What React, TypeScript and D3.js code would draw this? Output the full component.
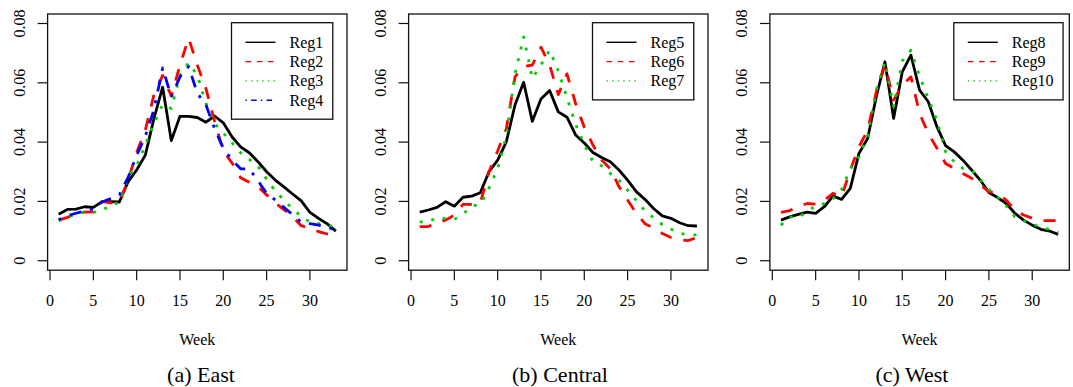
import React from "react";
import * as d3 from "d3";

// weekly share per region
const weeks = [1, 2, 3, 4, 5, 6, 7, 8, 9, 10, 11, 12, 13, 14, 15, 16, 17, 18, 19, 20, 21, 22, 23, 24, 25, 26, 27, 28, 29, 30, 31, 32, 33];

const reg1 = [0.0157, 0.0173, 0.0174, 0.0182, 0.018, 0.0199, 0.0199, 0.0198, 0.0266, 0.0306, 0.0356, 0.048, 0.0585, 0.0405, 0.0487, 0.0487, 0.0483, 0.0467, 0.0488, 0.0465, 0.0418, 0.0384, 0.0364, 0.0334, 0.03, 0.0272, 0.0249, 0.0225, 0.0202, 0.0163, 0.0143, 0.0124, 0.01];
const reg2 = [0.0137, 0.0146, 0.0158, 0.0164, 0.0165, 0.02, 0.0195, 0.0197, 0.027, 0.0365, 0.044, 0.056, 0.0625, 0.0555, 0.066, 0.075, 0.066, 0.058, 0.047, 0.037, 0.033, 0.028, 0.0265, 0.025, 0.0222, 0.0195, 0.0172, 0.0148, 0.0118, 0.011, 0.0098, 0.009, 0.0088];
const reg3 = [0.0135, 0.0146, 0.0158, 0.0165, 0.0163, 0.0168, 0.019, 0.0195, 0.0283, 0.032, 0.039, 0.0463, 0.0527, 0.0513, 0.0626, 0.0667, 0.0626, 0.053, 0.0463, 0.0431, 0.0398, 0.0364, 0.0342, 0.0319, 0.0275, 0.0235, 0.0205, 0.0175, 0.015, 0.013, 0.0125, 0.012, 0.0112];
const reg4 = [0.0138, 0.0152, 0.016, 0.0168, 0.0175, 0.0198, 0.021, 0.0222, 0.028, 0.0355, 0.042, 0.051, 0.065, 0.0553, 0.062, 0.0655, 0.0565, 0.0525, 0.0445, 0.038, 0.034, 0.031, 0.031, 0.027, 0.0227, 0.0205, 0.018, 0.0155, 0.013, 0.0125, 0.012, 0.0113, 0.0103];

const reg5 = [0.0164, 0.0171, 0.018, 0.0199, 0.0184, 0.0214, 0.0218, 0.0229, 0.030, 0.0339, 0.0401, 0.0525, 0.0602, 0.047, 0.0545, 0.0574, 0.0502, 0.0484, 0.0424, 0.0397, 0.0365, 0.0348, 0.0334, 0.0306, 0.0272, 0.0233, 0.0207, 0.0176, 0.0151, 0.0143, 0.0128, 0.0118, 0.0117];
const reg6 = [0.0115, 0.0115, 0.0131, 0.0137, 0.0154, 0.019, 0.019, 0.0195, 0.030, 0.037, 0.0445, 0.062, 0.0655, 0.066, 0.072, 0.066, 0.056, 0.063, 0.053, 0.045, 0.039, 0.034, 0.031, 0.025, 0.0205, 0.016, 0.0125, 0.011, 0.0092, 0.0078, 0.007, 0.0068, 0.0078];
const reg7 = [0.0131, 0.0131, 0.0146, 0.0142, 0.0139, 0.0157, 0.0184, 0.019, 0.0245, 0.031, 0.042, 0.063, 0.0755, 0.0615, 0.066, 0.071, 0.064, 0.055, 0.046, 0.039, 0.0335, 0.032, 0.0294, 0.0272, 0.0238, 0.0204, 0.0168, 0.0145, 0.0122, 0.0107, 0.0092, 0.0088, 0.0087];

const reg8 = [0.0137, 0.0148, 0.0156, 0.0164, 0.016, 0.0182, 0.0218, 0.0207, 0.0244, 0.0362, 0.0412, 0.0553, 0.0671, 0.048, 0.0637, 0.0693, 0.0575, 0.0536, 0.0452, 0.0388, 0.0367, 0.0339, 0.0306, 0.0272, 0.023, 0.0213, 0.0193, 0.016, 0.0137, 0.012, 0.0106, 0.01, 0.0089];
const reg9 = [0.0163, 0.0169, 0.0182, 0.0193, 0.0191, 0.0204, 0.0227, 0.0216, 0.0306, 0.0384, 0.044, 0.057, 0.066, 0.0542, 0.0592, 0.062, 0.0497, 0.0429, 0.0379, 0.0328, 0.0311, 0.0294, 0.0278, 0.0255, 0.0233, 0.0227, 0.0204, 0.0171, 0.0154, 0.0143, 0.0135, 0.0135, 0.0135];
const reg10 = [0.012, 0.0148, 0.0146, 0.0165, 0.0185, 0.0193, 0.021, 0.024, 0.031, 0.035, 0.042, 0.0575, 0.067, 0.052, 0.0674, 0.071, 0.0622, 0.0547, 0.0474, 0.0367, 0.0334, 0.0311, 0.0306, 0.0274, 0.024, 0.0215, 0.0185, 0.0148, 0.0135, 0.0125, 0.0112, 0.0106, 0.0095];

const eastNames = ["Reg1", "Reg2", "Reg3", "Reg4"];
const centralNames = ["Reg5", "Reg6", "Reg7"];
const westNames = ["Reg8", "Reg9", "Reg10"];
const captions = ["(a) East", "(b) Central", "(c) West"];

const xTicks = [0, 5, 10, 15, 20, 25, 30];
const yTicks = [0, 0.02, 0.04, 0.06, 0.08];
const yTickLabels = ["0", "0.02", "0.04", "0.06", "0.08"];

const colors = ["#000000", "#FF0000", "#00CD00", "#0000FF"];
const dashes = [undefined, "12,12", "3,9", "3,9,12,9"];
const legendDashes = [undefined, "5.6,5.6", "1.4,4.2", "1.4,4.2,5.6,4.2"];

const W = 1073;
const H = 387;
const panelLeft = [47.6, 408.6, 769.9];
const captionX = [201, 560, 912];
const plotW = 299.4;
const plotTop = 14;
const plotBottom = 270.2;
const tf = { fontFamily: '"Liberation Serif", monospace' };

const panels = [
  { series: [reg1, reg2, reg3, reg4], names: eastNames },
  { series: [reg5, reg6, reg7], names: centralNames },
  { series: [reg8, reg9, reg10], names: westNames },
];

// rough Times width per char (em) to size the legend box
const charW: Record<string, number> = { R: 0.667, e: 0.444, g: 0.5 };
const textWidth = (s: string, size: number) =>
  s.split("").reduce((a, c) => a + (charW[c] ?? 0.5), 0) * size;

const Panel = ({ idx }: { idx: number }) => {
  const p = panels[idx];
  const left = panelLeft[idx];
  const right = left + plotW;
  const x = d3.scaleLinear().domain([-0.28, 34.28]).range([left, right]);
  const y = d3.scaleLinear().domain([-0.0032, 0.0832]).range([plotBottom, plotTop]);
  const line = d3.line<number>()
    .x((d, k) => x(weeks[k]))
    .y(d => y(d));

  const lx = right - 115.5;
  const ly = 22.7;
  const rowH = 19.3;
  const maxW = d3.max(p.names, n => textWidth(n, 16)) ?? 0;

  return (
    <g>
      {p.series.map((s, k) => (
        <path key={k} d={line(s) ?? ""} fill="none" stroke={colors[k]} strokeWidth={2.8}
          strokeDasharray={dashes[k]} strokeLinejoin="round" />
      ))}
      <rect x={left} y={plotTop} width={plotW} height={plotBottom - plotTop}
        fill="none" stroke="#111" strokeWidth={1.3} />

      {xTicks.map(t => (
        <g key={t}>
          <line x1={x(t)} x2={x(t)} y1={plotBottom} y2={plotBottom + 10} stroke="#111" strokeWidth={1.2} />
          <text x={x(t)} y={306} textAnchor="middle" fontSize={16} style={tf}>{t}</text>
        </g>
      ))}
      {yTicks.map((t, k) => (
        <g key={t}>
          <line x1={left - 10} x2={left} y1={y(t)} y2={y(t)} stroke="#111" strokeWidth={1.2} />
          <text transform={`translate(${left - 23},${y(t)}) rotate(-90)`} textAnchor="middle" fontSize={16} style={tf}>
            {yTickLabels[k]}
          </text>
        </g>
      ))}

      <text x={(left + right) / 2} y={345} textAnchor="middle" fontSize={16} style={tf}>Week</text>
      <text x={captionX[idx]} y={382} textAnchor="middle" fontSize={22} style={tf}>{captions[idx]}</text>

      <rect x={lx} y={ly} width={58 + maxW + 9.5} height={rowH * (p.names.length + 1)}
        fill="white" stroke="#111" strokeWidth={1.3} />
      {p.names.map((n, k) => (
        <g key={n}>
          <line x1={lx + 14} x2={lx + 44} y1={ly + 19.6 + rowH * k} y2={ly + 19.6 + rowH * k}
            stroke={colors[k]} strokeWidth={1.4} strokeDasharray={legendDashes[k]} />
          <text x={lx + 58} y={ly + 19.6 + rowH * k + 5.5} fontSize={16} style={tf}>{n}</text>
        </g>
      ))}
    </g>
  );
};

const App = () => (
  <svg width={W} height={H} style={{ position: "absolute", left: 0, top: 0, background: "white" }}>
    {panels.map((p, i) => <Panel key={i} idx={i} />)}
  </svg>
);

export default App;
